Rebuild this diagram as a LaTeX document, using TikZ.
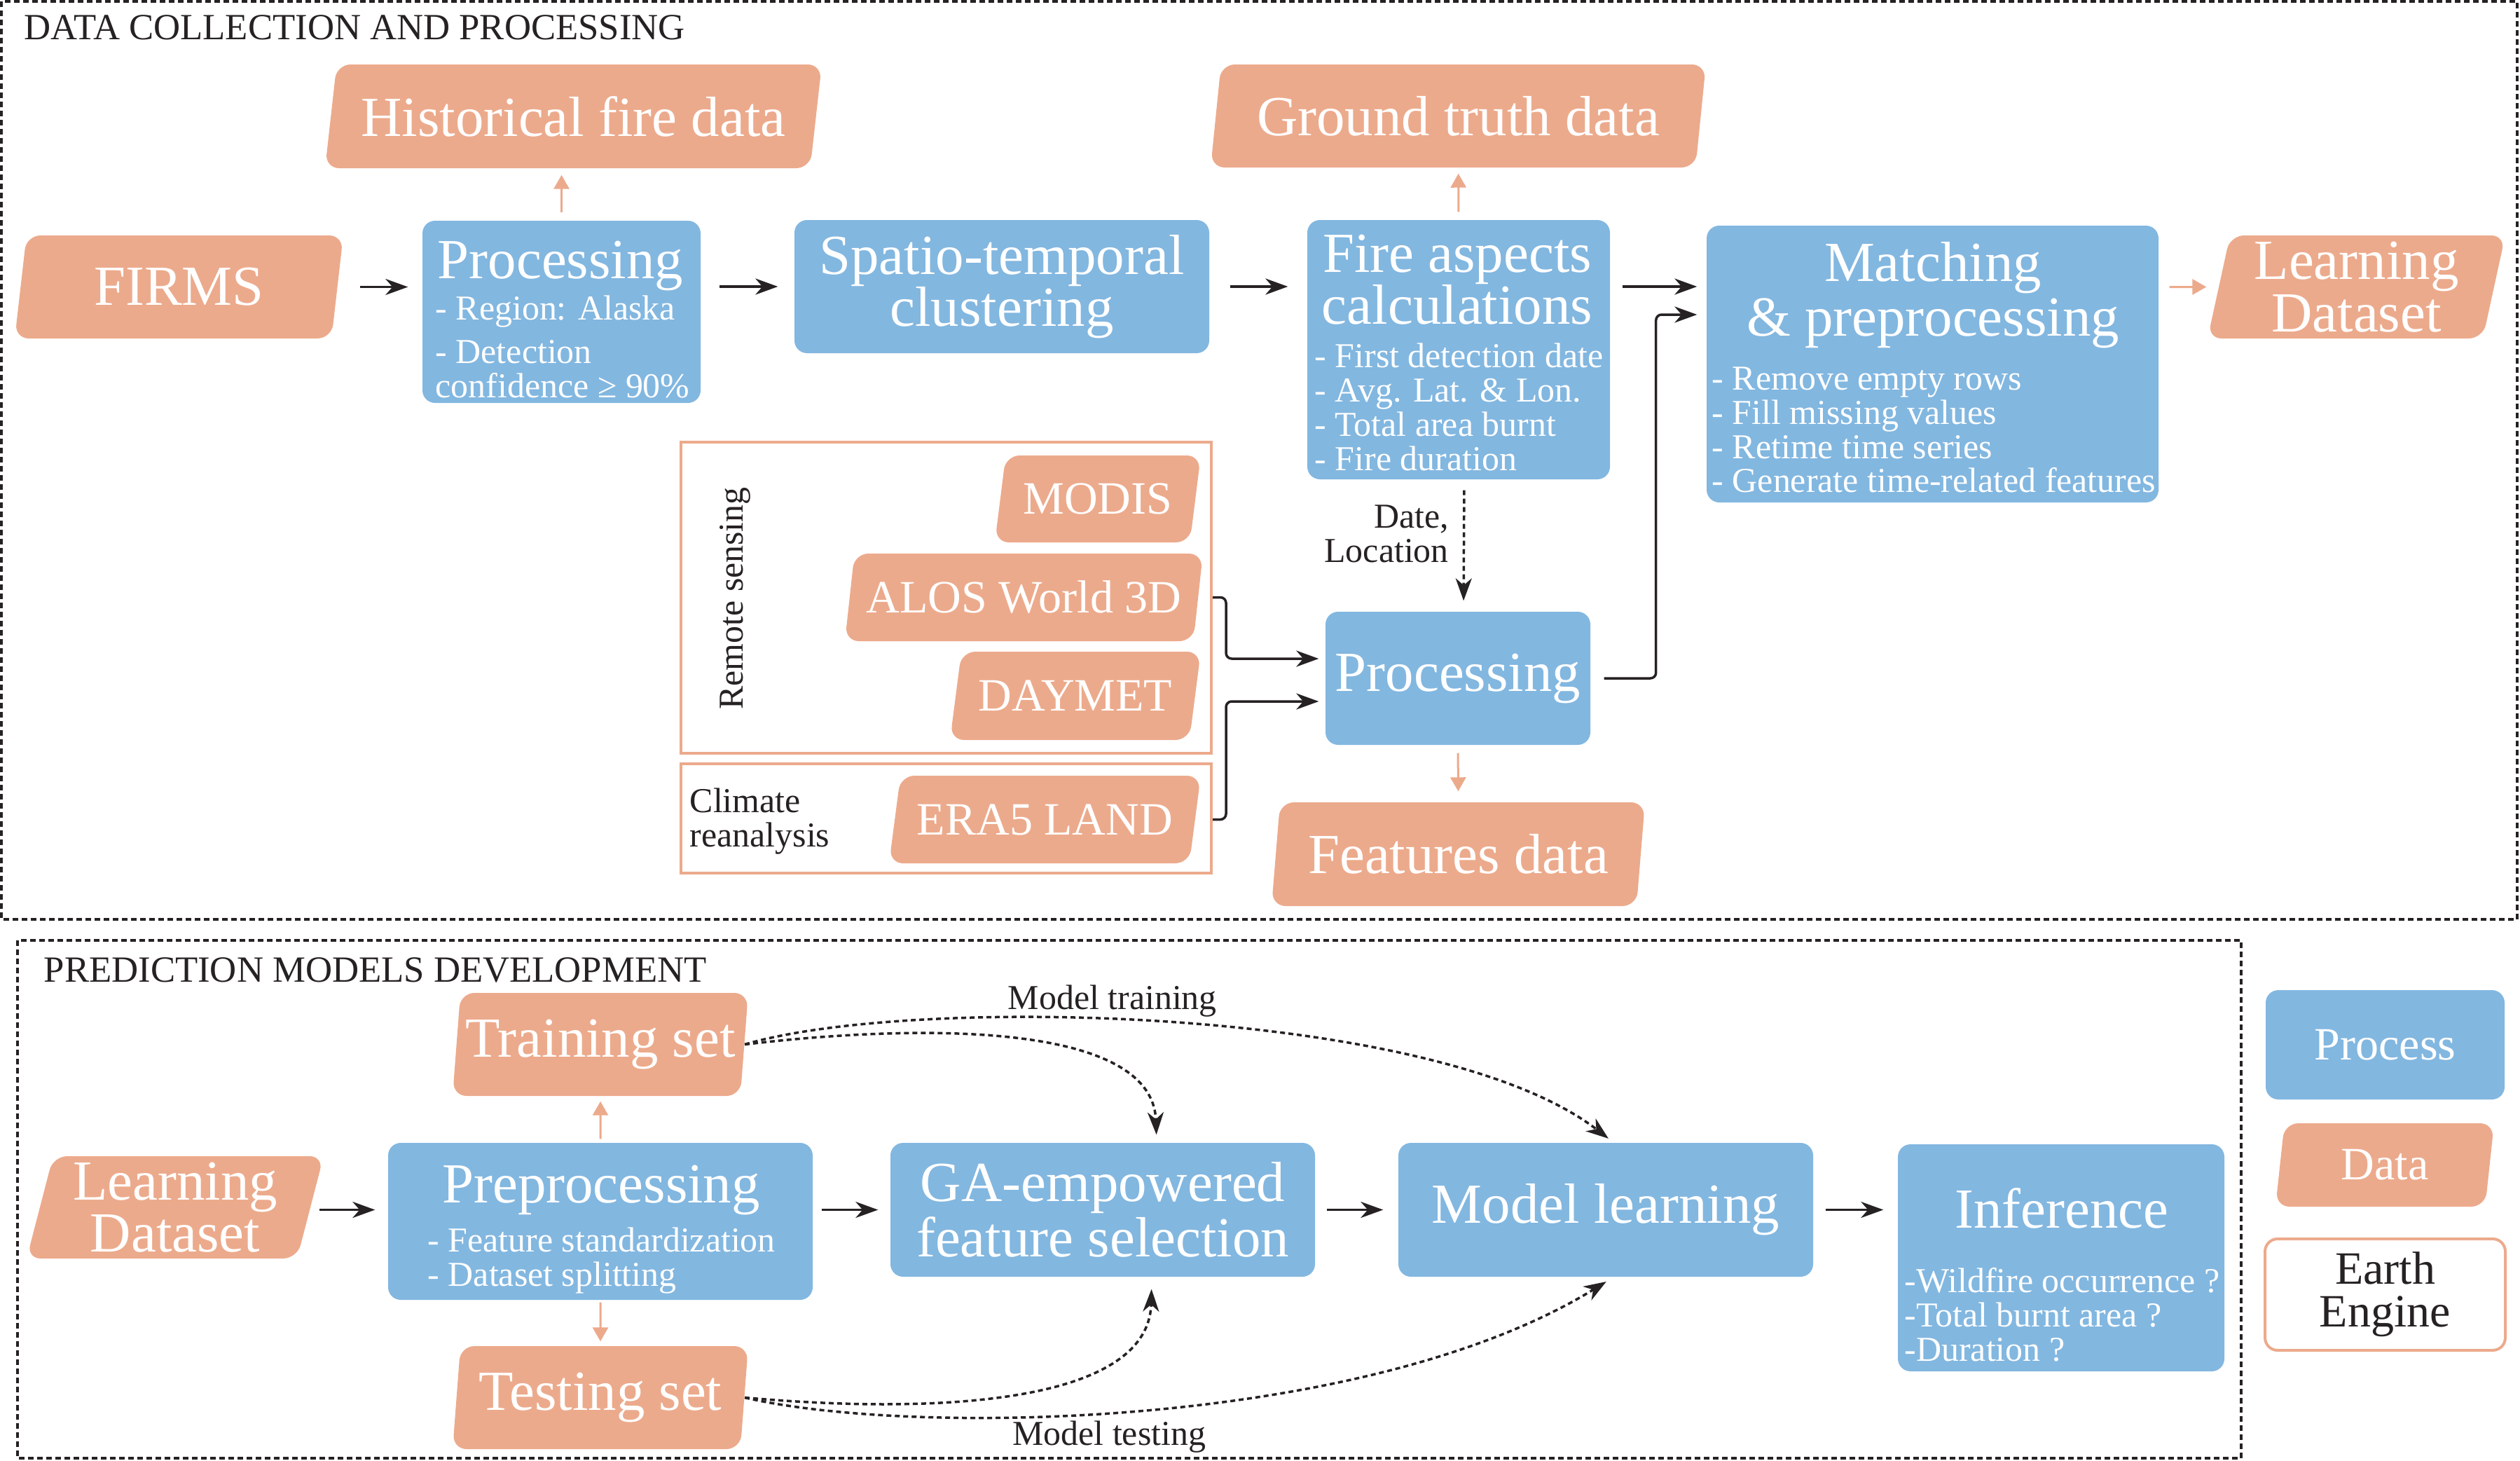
\documentclass[tikz,border=0pt]{standalone}
\usepackage{fontspec}
\setmainfont{Liberation Serif}
\usetikzlibrary{shapes.geometric,arrows.meta}
\definecolor{procblue}{RGB}{130,183,224}
\definecolor{datasalmon}{RGB}{236,170,140}
\definecolor{inkdark}{RGB}{38,33,35}
\newcommand{\bigtxt}{\fontsize{23}{21.2}\selectfont}
\newcommand{\midtxt}{\fontsize{18.8}{17.4}\selectfont}
\newcommand{\smalltxt}{\fontsize{14.2}{13.9}\selectfont}
\newcommand{\headtxt}{\fontsize{15}{15}\selectfont}
\tikzset{procbox/.style={rectangle,rounded corners=0.18cm,fill=procblue,text=white,font=\bigtxt,align=center,inner sep=0},
	databox/.style={trapezium,trapezium left angle=#1,trapezium right angle={180-#1},
		trapezium stretches body,rounded corners=0.2cm,fill=datasalmon,text=white,font=\bigtxt,align=center,inner sep=0},
	databox/.default=74,
	srcframe/.style={rectangle,draw=datasalmon,line width=0.04cm,inner sep=0},
	bigt/.style={font=\bigtxt,text=white,align=center,inner sep=0},
	smallt/.style={font=\smalltxt,text=white,align=left,anchor=west,inner sep=0},
	lbl/.style={font=\smalltxt,text=inkdark,inner sep=0},
	frame/.style={draw=inkdark,line width=0.035cm,dash pattern=on 0.08cm off 0.05cm},
	arr/.style={-{Stealth[length=0.32cm,width=0.23cm,inset=0.1cm]},line width=0.035cm,draw=inkdark},
	darr/.style={arr,dash pattern=on 0.07cm off 0.05cm},
	sarr/.style={-{Triangle[length=0.2cm,width=0.22cm]},line width=0.03cm,draw=datasalmon}}
\begin{document}
\begin{tikzpicture}
	\useasboundingbox (0,0) rectangle (35.97,-20.84);
	% frames
	\draw[frame] (0.02,-0.02) rectangle (35.93,-13.12);
	\draw[frame] (0.25,-13.42) rectangle (31.99,-20.81);
	\node[lbl,font=\headtxt,anchor=west] (sec1) at (0.34,-0.39) {DATA COLLECTION AND PROCESSING};
	\node[lbl,font=\headtxt,anchor=west] (sec2) at (0.62,-13.845) {PREDICTION MODELS DEVELOPMENT};

	% data collection
	\node[databox=72.8,minimum width=4.69cm,minimum height=1.47cm] (firms) at (2.555,-4.095) {FIRMS};
	\node[procbox,minimum width=3.97cm,minimum height=2.6cm] (proc1) at (8.015,-4.45) {};
	\node[bigt] (proc1t) at (8.0,-3.79) {Processing};
	\node[smallt] (proc1l) at (6.21,-4.95) {- Region: Alaska\\[0.13cm]- Detection\\confidence ≥ 90\%};
	\node[databox=74,minimum width=7.09cm,minimum height=1.48cm] (histfire) at (8.185,-1.66) {Historical fire data};
	\node[procbox,minimum width=5.92cm,minimum height=1.9cm] (spatio) at (14.30,-4.09) {Spatio-temporal\\clustering};
	\node[procbox,minimum width=4.32cm,minimum height=3.7cm] (fireasp) at (20.82,-4.99) {};
	\node[bigt] (fireaspt) at (20.80,-3.99) {Fire aspects\\calculations};
	\node[smallt] (fireaspl) at (18.76,-5.81) {- First detection date\\- Avg. Lat. \& Lon.\\- Total area burnt\\- Fire duration};
	\node[databox=75.4,minimum width=7.07cm,minimum height=1.47cm] (truth) at (20.815,-1.655) {Ground truth data};
	\node[procbox,minimum width=6.45cm,minimum height=3.95cm] (match) at (27.585,-5.195) {};
	\node[bigt] (matcht) at (27.59,-4.21) {Matching\\[0.03cm]\& preprocessing};
	\node[smallt] (matchl) at (24.43,-6.135) {- Remove empty rows\\- Fill missing values\\- Retime time series\\- Generate time-related features};
	\node[databox=76,minimum width=4.25cm,minimum height=1.47cm] (learna) at (33.635,-4.095) {Learning\\Dataset};

	% sources
	\node[srcframe,minimum width=7.57cm,minimum height=4.44cm] (rsbox) at (13.505,-8.53) {};
	\node[srcframe,minimum width=7.57cm,minimum height=1.56cm] (clbox) at (13.505,-11.68) {};
	\node[lbl,rotate=90] (rslbl) at (10.49,-8.54) {Remote sensing};
	\node[lbl,anchor=west,align=left] (cllbl) at (9.84,-11.72) {Climate\\reanalysis};
	\node[databox=70.7,font=\midtxt,minimum width=2.94cm,minimum height=1.24cm] (modis) at (15.67,-7.12) {MODIS};
	\node[databox=73.8,font=\midtxt,minimum width=5.11cm,minimum height=1.25cm] (alos) at (14.615,-8.525) {ALOS World 3D};
	\node[databox=69.6,font=\midtxt,minimum width=3.58cm,minimum height=1.26cm] (daymet) at (15.35,-9.93) {DAYMET};
	\node[databox=69.7,font=\midtxt,minimum width=4.45cm,minimum height=1.25cm] (era5) at (14.915,-11.695) {ERA5 LAND};
	\node[procbox,minimum width=3.78cm,minimum height=1.9cm] (proc2) at (20.81,-9.68) {Processing};
	\node[databox=78,minimum width=5.33cm,minimum height=1.48cm] (feat) at (20.815,-12.19) {Features data};

	\draw[arr,shorten <=0.32cm,shorten >=0.2cm] (firms.east) -- (firms.east -| proc1.west);
	\draw[arr,shorten <=0.26cm,shorten >=0.23cm] (proc1.east |- spatio) -- (spatio.west);
	\draw[arr,shorten <=0.29cm,shorten >=0.27cm] (spatio.east) -- (spatio.east -| fireasp.west);
	\draw[arr,shorten <=0.17cm,shorten >=0.13cm] ([yshift=0.90cm]fireasp.east) -- ([yshift=1.105cm]match.west);
	\draw[arr,rounded corners=0.08cm,shorten <=0.19cm,shorten >=0.13cm] (proc2.east) -- ++(0.93,0) |- ([yshift=0.705cm]match.west);
	\draw[sarr,shorten <=0.15cm,shorten >=0.17cm] (match.east |- learna) -- (learna.west);
	\draw[sarr,shorten <=0.11cm,shorten >=0.09cm] (proc1.north) -- (proc1.north |- histfire.south);
	\draw[sarr,shorten <=0.11cm,shorten >=0.08cm] (fireasp.north) -- (truth.south);
	\draw[sarr,shorten <=0.11cm,shorten >=0.15cm] (proc2.south) -- (feat.north);
	\draw[darr,shorten <=0.15cm,shorten >=0.15cm] ([xshift=0.08cm]fireasp.south) -- ([xshift=0.08cm]proc2.north)
		node[lbl,align=right,pos=0.41,left=0.2cm] (datelbl) {Date,\\Location};
	\draw[arr,rounded corners=0.08cm,shorten >=0.09cm] (rsbox.east |- alos) -- ++(0.19,0) |- ([yshift=0.28cm]proc2.west);
	\draw[arr,rounded corners=0.08cm,shorten >=0.09cm] (clbox.east |- era5) -- ++(0.19,0) |- ([yshift=-0.33cm]proc2.west);

	% prediction models
	\node[databox=73.6,minimum width=4.24cm,minimum height=1.46cm] (learnb) at (2.50,-17.23) {Learning\\Dataset};
	\node[procbox,minimum width=6.06cm,minimum height=2.24cm] (prep) at (8.57,-17.43) {};
	\node[bigt] (prept) at (8.58,-16.98) {Preprocessing};
	\node[smallt] (prepl) at (6.10,-17.99) {- Feature standardization\\- Dataset splitting};
	\node[databox=81,minimum width=4.22cm,minimum height=1.47cm] (train) at (8.57,-14.905) {Training set};
	\node[databox=81,minimum width=4.22cm,minimum height=1.47cm] (test) at (8.57,-19.945) {Testing set};
	\node[procbox,minimum width=6.06cm,minimum height=1.91cm] (ga) at (15.74,-17.265) {GA-empowered\\[0.05cm]feature selection};
	\node[procbox,minimum width=5.92cm,minimum height=1.91cm] (learn) at (22.92,-17.265) {Model learning};
	\node[procbox,minimum width=4.66cm,minimum height=3.24cm] (infer) at (29.42,-17.95) {};
	\node[bigt] (infert) at (29.43,-17.24) {Inference};
	\node[smallt] (inferl) at (27.18,-18.76) {-Wildfire occurrence ?\\-Total burnt area ?\\-Duration ?};

	\draw[arr,shorten <=0.12cm,shorten >=0.18cm] (learnb.east |- ga) -- (prep.west |- ga);
	\draw[arr,shorten <=0.12cm,shorten >=0.17cm] (prep.east |- ga) -- (ga.west);
	\draw[arr,shorten <=0.16cm,shorten >=0.21cm] (ga.east) -- (learn.west);
	\draw[arr,shorten <=0.17cm,shorten >=0.2cm] (learn.east) -- (learn.east -| infer.west);
	\draw[sarr,shorten <=0.05cm,shorten >=0.07cm] (prep.north) -- (train.south);
	\draw[sarr,shorten <=0.03cm,shorten >=0.06cm] (prep.south) -- (test.north);
	\draw[darr,shorten >=0.11cm] (train.east) .. controls (13.2,-14.6) and (16.45,-14.6) .. ([xshift=0.77cm]ga.north);
	\draw[darr,shorten >=0.09cm] (train.east) .. controls (13.0,-14.2) and (20.5,-14.35) .. ([xshift=0.11cm]learn.north)
		node[lbl,pos=0.44,above=0.02cm] (trainlbl) {Model training};
	\draw[darr,shorten >=0.17cm] (test.east) .. controls (13.5,-20.2) and (16.4,-20.0) .. ([xshift=0.70cm]ga.south);
	\draw[darr,shorten >=0.12cm] (test.east) .. controls (13.0,-20.5) and (19.5,-20.4) .. ([xshift=0.11cm]learn.south)
		node[lbl,pos=0.46,below=0.1cm] (testlbl) {Model testing};

	% legend
	\node[procbox,font=\midtxt,minimum width=3.41cm,minimum height=1.56cm] (keyproc) at (34.045,-14.91) {Process};
	\node[databox=73.8,font=\midtxt,minimum width=3.12cm,minimum height=1.19cm] (keydata) at (34.04,-16.625) {Data};
	\node[rectangle,rounded corners=0.18cm,draw=datasalmon,line width=0.04cm,fill=white,text=inkdark,font=\midtxt,
		align=center,minimum width=3.43cm,minimum height=1.59cm] (keyee) at (34.045,-18.475) {Earth\\Engine};
\end{tikzpicture}
\end{document}
